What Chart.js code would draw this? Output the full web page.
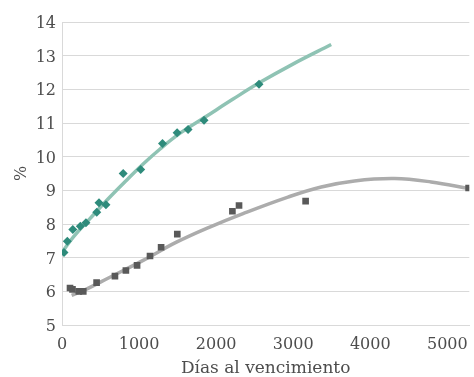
<!DOCTYPE html>
<html>
<head>
<meta charset="utf-8">
<script src="https://cdn.jsdelivr.net/npm/chart.js@4"></script>
<style>
  html, body { margin: 0; padding: 0; background: #ffffff; }
  #wrap { width: 474px; height: 377px; position: relative; }
</style>
</head>
<body>
<div id="wrap"><canvas id="c" width="474" height="377"></canvas></div>
<script>
// Teal series (diamonds)
const tealX = [26, 69, 140, 238, 311, 451, 480, 570, 794, 1021, 1304, 1494, 1636, 1843, 2556];
const tealY = [7.15, 7.49, 7.84, 7.93, 8.04, 8.35, 8.63, 8.57, 9.50, 9.62, 10.39, 10.71, 10.81, 11.08, 12.15];
// Teal trend line
const tealTrendX = [17, 146, 363, 622, 838, 1053, 1269, 1528, 1874, 2220, 2565, 2996, 3493];
const tealTrendY = [7.21, 7.61, 8.16, 8.80, 9.30, 9.78, 10.22, 10.69, 11.20, 11.71, 12.20, 12.75, 13.33];
// Gray series (squares)
const grayX = [104, 136, 218, 276, 449, 687, 829, 974, 1142, 1286, 1496, 2211, 2297, 3161, 5276];
const grayY = [6.10, 6.06, 6.00, 6.00, 6.26, 6.45, 6.62, 6.77, 7.05, 7.31, 7.70, 8.38, 8.55, 8.68, 9.07];
// Gray trend line
const grayTrendX = [125, 276, 622, 1053, 1485, 1917, 2349, 2932, 3364, 3795, 4313, 4789, 5285];
const grayTrendY = [5.88, 6.02, 6.42, 6.92, 7.46, 7.91, 8.31, 8.80, 9.10, 9.28, 9.35, 9.25, 9.05];
// Tick labels
const xTicks = [0, 1000, 2000, 3000, 4000, 5000];
const yTicks = [5, 6, 7, 8, 9, 10, 11, 12, 13, 14];
const xTitle = 'Días al vencimiento';
const yTitle = '%';

const pts = (xs, ys) => xs.map((x, i) => ({ x: x, y: ys[i] }));
const FONT = 'DejaVu Serif';
const TXT = '#4d4d4d';

new Chart(document.getElementById('c'), {
  type: 'scatter',
  data: {
    datasets: [
      { data: pts(tealX, tealY), pointStyle: 'rectRot', pointRadius: 4.5, pointHoverRadius: 4.5,
        backgroundColor: '#2e8b7b', borderColor: '#2e8b7b', borderWidth: 0, showLine: false },
      { data: pts(grayX, grayY), pointStyle: 'rect', pointRadius: 4.7, pointHoverRadius: 4.7,
        backgroundColor: '#595959', borderColor: '#595959', borderWidth: 0, showLine: false },
      { data: pts(tealTrendX, tealTrendY), showLine: true, pointRadius: 0, borderColor: '#8fc3b4',
        borderWidth: 3.5, tension: 0.4, fill: false },
      { data: pts(grayTrendX, grayTrendY), showLine: true, pointRadius: 0, borderColor: '#acacac',
        borderWidth: 3.5, tension: 0.4, fill: false }
    ]
  },
  options: {
    responsive: false,
    animation: false,
    devicePixelRatio: 1,
    layout: { padding: { top: 22, right: 0, left: 0, bottom: 0 } },
    plugins: { legend: { display: false }, tooltip: { enabled: false } },
    scales: {
      x: {
        type: 'linear', min: 0, max: 5285,
        afterBuildTicks: (s) => { s.ticks = xTicks.map(v => ({ value: v })); },
        afterFit: (s) => { s.height = 52; },
        grid: { display: false, drawTicks: false },
        border: { display: true, color: '#d9d9d9', width: 1 },
        ticks: { padding: 0, color: TXT, font: { family: FONT, size: 16, lineHeight: 2.45 }, maxRotation: 0,
                 callback: (v) => String(v) },
        title: { display: true, text: xTitle, color: TXT, font: { family: FONT, size: 17 },
                 padding: { top: 0, bottom: -1.5 } }
      },
      y: {
        type: 'linear', min: 5, max: 14,
        afterBuildTicks: (s) => { s.ticks = yTicks.map(v => ({ value: v })); },
        afterFit: (s) => { s.width = 62; },
        grid: { color: '#d9d9d9', lineWidth: 1, drawTicks: false },
        border: { display: true, color: '#d9d9d9', width: 1 },
        ticks: { padding: 6, labelOffset: 2, color: TXT, font: { family: FONT, size: 16 },
                 callback: (v) => String(v) },
        title: { display: true, text: yTitle, color: TXT, font: { family: FONT, size: 16 },
                 padding: { top: 12, bottom: 0 } }
      }
    }
  }
});
</script>
</body>
</html>
